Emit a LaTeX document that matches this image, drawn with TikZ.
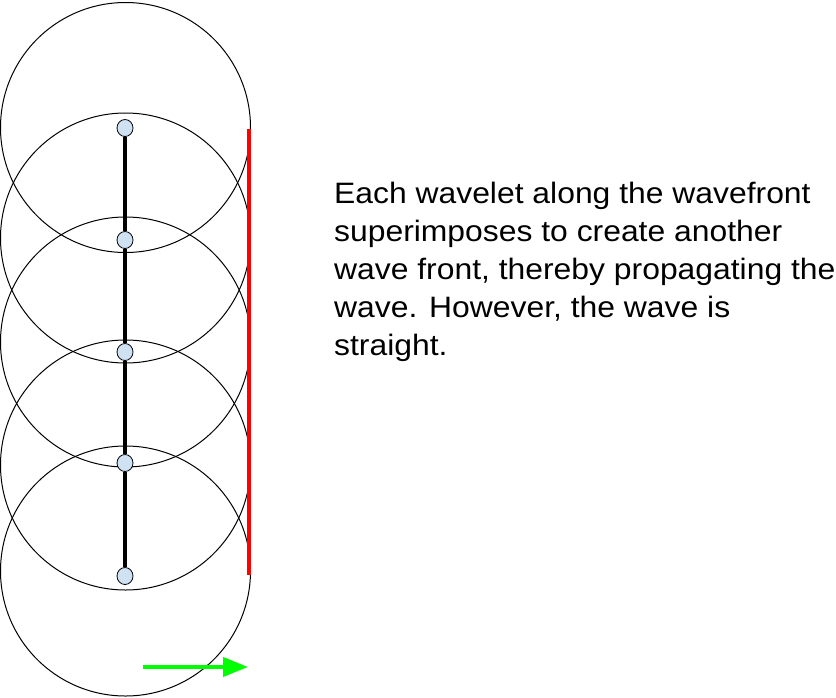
\documentclass[tikz,border=0pt]{standalone}
\usepackage{fontspec}
\setmainfont{Liberation Sans}
\newfontfamily\capfont[FakeStretch=1.08]{Liberation Sans}
\usetikzlibrary{positioning,arrows.meta,shapes.geometric}
\definecolor{dotblue}{RGB}{207,226,243}
\definecolor{frontred}{RGB}{255,0,0}
\definecolor{dirgreen}{RGB}{0,255,0}

\begin{document}
\begin{tikzpicture}[
  x=1pt,y=-1pt,
  wavelet/.style={draw=black,line width=1pt},
  source/.style={ellipse,draw=black,fill=dotblue,minimum width=16pt,minimum height=17pt,inner sep=0pt,line width=0.8pt},
  stem/.style={draw=black,line width=4pt},
  front/.style={draw=frontred,line width=4pt},
  dir/.style={-{Triangle[length=25pt,width=19pt]},draw=dirgreen,line width=4pt},
  caption/.style={anchor=base west,align=left,inner sep=0pt,font=\capfont\fontsize{29.5}{38}\selectfont},
]
  \useasboundingbox[fill=white] (0,0) rectangle (836,697);

  \foreach \cy in {127.5,238,342,465,571}
    \draw[wavelet] (125.5,\cy) circle[radius=125pt];

  \coordinate (ftop) at (249,129);
  \coordinate (fbot) at (249,575);
  \draw[front] (ftop) -- (fbot);

  \node[source] (d1) at (125,128) {};
  \node[source] (d2) at (125,240) {};
  \node[source] (d3) at (125,352) {};
  \node[source] (d4) at (125,463) {};
  \node[source] (d5) at (125,576) {};
  \foreach \a/\b in {d1/d2,d2/d3,d3/d4,d4/d5}
    \draw[stem] (\a) -- (\b);

  \coordinate (gs) at (143,667);
  \coordinate (ge) at (248,667);
  \draw[dir] (gs) -- (ge);

  \node[caption] (text) at (334,355) {Each wavelet along the wavefront\\superimposes to create another\\wave front, thereby propagating the\\wave. However, the wave is\\straight.};
\end{tikzpicture}
\end{document}
